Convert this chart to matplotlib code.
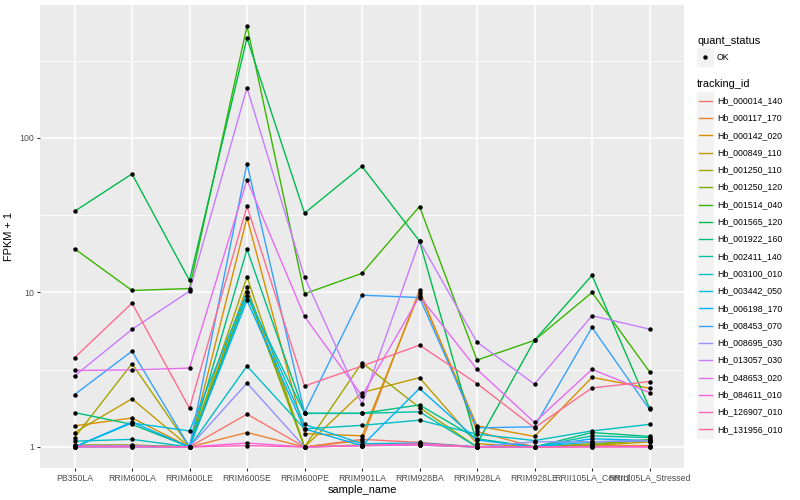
import matplotlib
matplotlib.use("Agg")
import matplotlib.pyplot as plt
from matplotlib.lines import Line2D
from matplotlib.patches import Rectangle
import numpy as np

plt.rcParams['font.family'] = ['Liberation Sans', 'DejaVu Sans']

# sample order on the x axis
samples = ['PB350LA', 'RRIM600LA', 'RRIM600LE', 'RRIM600SE', 'RRIM600PE', 'RRIM901LA',
           'RRIM928BA', 'RRIM928LA', 'RRIM928LE', 'RRII105LA_Control', 'RRII105LA_Stressed']

tracking_ids = ['Hb_000014_140', 'Hb_000117_170', 'Hb_000142_020', 'Hb_000849_110',
                'Hb_001250_110', 'Hb_001250_120', 'Hb_001514_040', 'Hb_001565_120',
                'Hb_001922_160', 'Hb_002411_140', 'Hb_003100_010', 'Hb_003442_050',
                'Hb_006198_170', 'Hb_008453_070', 'Hb_008695_030', 'Hb_013057_030',
                'Hb_048653_020', 'Hb_084611_010', 'Hb_126907_010', 'Hb_131956_010']

# ggplot default hue palette for 20 levels
colors = ['#F8766D', '#EA8331', '#D89000', '#C09B00', '#A3A500', '#7CAE00', '#39B600',
          '#00BB4E', '#00BF7D', '#00C1A3', '#00BFC4', '#00BAE0', '#00B0F6', '#35A2FF',
          '#9590FF', '#C77CFF', '#E76BF3', '#FA62DB', '#FF62BC', '#FF6C91']

# FPKM + 1, one list per tracking id
hb_000014_140 = [1.02, 1.02, 1.00, 1.63, 1.00, 1.12, 1.07, 1.00, 1.00, 1.00, 1.02]
hb_000117_170 = [1.02, 1.02, 1.00, 1.24, 1.00, 1.10, 10.35, 1.26, 1.00, 1.02, 1.02]
hb_000142_020 = [1.37, 1.54, 1.00, 30.5, 1.22, 1.18, 9.95, 1.37, 1.17, 2.82, 2.40]
hb_000849_110 = [1.24, 2.05, 1.00, 10.8, 1.00, 2.25, 2.81, 1.05, 1.00, 1.02, 1.08]
hb_001250_110 = [1.15, 3.46, 1.00, 12.6, 1.00, 3.51, 1.80, 1.00, 1.00, 1.05, 1.10]
hb_001250_120 = [1.03, 1.03, 1.00, 10.0, 1.00, 1.03, 1.03, 1.00, 1.00, 1.03, 1.12]
hb_001514_040 = [19.2, 10.3, 10.6, 530.0, 9.8, 13.3, 36.0, 3.65, 4.9, 10.0, 3.07]
hb_001565_120 = [33.5, 58.5, 11.96, 443.0, 32.6, 65.5, 21.5, 1.05, 4.9, 12.9, 1.78]
hb_001922_160 = [1.67, 1.40, 1.00, 19.0, 1.65, 1.65, 1.87, 1.13, 1.00, 1.24, 1.17]
hb_002411_140 = [1.00, 1.00, 1.00, 9.5, 1.65, 1.65, 1.69, 1.00, 1.00, 1.18, 1.15]
hb_003100_010 = [1.09, 1.12, 1.00, 3.34, 1.31, 1.38, 1.49, 1.21, 1.10, 1.27, 1.40]
hb_003442_050 = [1.00, 1.43, 1.27, 10.0, 1.40, 1.05, 1.06, 1.00, 1.00, 1.08, 1.10]
hb_006198_170 = [1.00, 1.45, 1.00, 8.9, 1.31, 1.02, 2.39, 1.11, 1.00, 1.13, 1.10]
hb_008453_070 = [2.18, 4.17, 1.00, 68.2, 1.67, 9.6, 9.27, 1.33, 1.35, 5.94, 1.75]
hb_008695_030 = [1.02, 1.02, 1.00, 2.59, 1.00, 1.02, 1.03, 1.00, 1.08, 1.08, 1.10]
hb_013057_030 = [2.88, 5.77, 10.2, 211.0, 12.6, 1.89, 21.5, 4.77, 2.55, 7.07, 5.79]
hb_048653_020 = [3.13, 3.15, 3.24, 53.5, 7.0, 2.14, 9.46, 3.18, 1.44, 3.18, 2.25]
hb_084611_010 = [1.00, 1.00, 1.00, 1.06, 1.00, 1.02, 1.03, 1.00, 1.00, 1.00, 1.00]
hb_126907_010 = [1.01, 1.01, 1.00, 1.02, 1.00, 1.02, 1.05, 1.00, 1.00, 1.01, 1.00]
hb_131956_010 = [3.78, 8.53, 1.78, 36.1, 2.48, 3.34, 4.56, 2.57, 1.33, 2.41, 2.65]

values = [hb_000014_140, hb_000117_170, hb_000142_020, hb_000849_110, hb_001250_110,
          hb_001250_120, hb_001514_040, hb_001565_120, hb_001922_160, hb_002411_140,
          hb_003100_010, hb_003442_050, hb_006198_170, hb_008453_070, hb_008695_030,
          hb_013057_030, hb_048653_020, hb_084611_010, hb_126907_010, hb_131956_010]

fig = plt.figure(figsize=(8, 5), dpi=100)
ax = fig.add_axes([40 / 800, 1 - 468 / 500, 644 / 800, 463 / 500])
ax.set_facecolor('#EBEBEB')

x = np.arange(len(samples))
for vals, col in zip(values, colors):
    ax.plot(x, vals, color=col, lw=1.0, zorder=3)
for vals in values:
    ax.plot(x, vals, 'o', color='black', ms=3.2, mec='none', zorder=4)

ax.set_yscale('log')
all_logs = np.log10(np.concatenate([np.array(v) for v in values]))
lo, hi = all_logs.min(), all_logs.max()
pad = 0.05 * (hi - lo)
ax.set_ylim(10 ** (lo - pad), 10 ** (hi + pad))
ax.set_xlim(-0.6, len(samples) - 0.4)

# ggplot-like grid
ax.set_yticks([1, 10, 100])
ax.set_yticklabels(['1', '10', '100'])
ax.set_yticks([10 ** 0.5, 10 ** 1.5, 10 ** 2.5], minor=True)
ax.yaxis.set_minor_formatter(matplotlib.ticker.NullFormatter())
ax.set_xticks(x)
ax.set_xticklabels(samples)
ax.grid(which='major', color='white', lw=1.1, zorder=0)
ax.grid(which='minor', axis='y', color='white', lw=0.55, zorder=0)
ax.set_axisbelow(True)
for s in ax.spines.values():
    s.set_visible(False)
ax.tick_params(which='major', length=2.5, width=0.8, color='#333333',
               labelsize=6.3, labelcolor='#4D4D4D', pad=1.5)
ax.tick_params(which='minor', length=0)

ax.set_xlabel('sample_name', fontsize=7.9, labelpad=2)
ax.set_ylabel('FPKM + 1', fontsize=7.9, labelpad=4)

# legends drawn in pixel coordinates of the figure
def fx(px):
    return px / 800

def fy(py):
    return 1 - py / 500

fig.text(fx(697), fy(40.5), 'quant_status', fontsize=7.9, va='center', ha='left')
fig.patches.append(Rectangle((fx(697), fy(65.5)), 16 / 800, 17 / 500,
                             transform=fig.transFigure, color='#F2F2F2', zorder=1))
fig.lines.append(Line2D([fx(705)], [fy(57)], marker='o', ms=3.2, color='black',
                        mec='none', transform=fig.transFigure))
fig.text(fx(717), fy(57), 'OK', fontsize=6.3, va='center', ha='left')

fig.text(fx(697), fy(84), 'tracking_id', fontsize=7.9, va='center', ha='left')
for i, (tid, col) in enumerate(zip(tracking_ids, colors)):
    cy = 100.7 + i * 17.3
    fig.patches.append(Rectangle((fx(697), fy(cy + 8.3)), 16 / 800, 16.6 / 500,
                                 transform=fig.transFigure, color='#F2F2F2', zorder=1))
    fig.lines.append(Line2D([fx(698.5), fx(711.5)], [fy(cy), fy(cy)], color=col, lw=1.0,
                            transform=fig.transFigure))
    fig.text(fx(717), fy(cy), tid, fontsize=6.3, va='center', ha='left')

fig.savefig('out.png', dpi=100)
